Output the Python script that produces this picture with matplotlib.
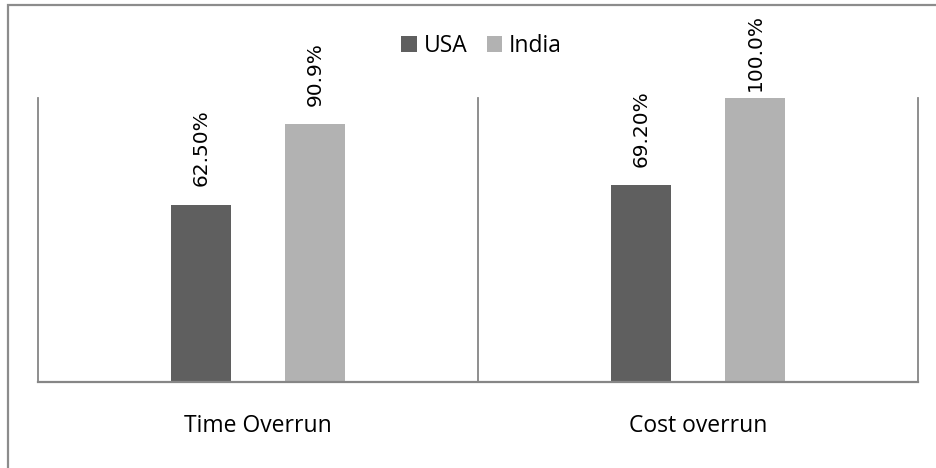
import matplotlib.pyplot as plt
import numpy as np
from matplotlib.patches import Rectangle

categories = ["Time Overrun", "Cost overrun"]
usa = [0.625, 0.692]
india = [0.909, 1.000]
usa_labels = ["62.50%", "69.20%"]
india_labels = ["90.9%", "100.0%"]

dark = "#5f5f5f"
light = "#b2b2b2"
line_gray = "#868686"
sans = ["Open Sans", "DejaVu Sans"]

fig = plt.figure(figsize=(9.36, 4.68), dpi=100)
ax = fig.add_axes([38 / 936, 1 - 382 / 468, 880 / 936, 284 / 468])

# outer chart frame (only top and left edges fall inside the canvas)
fig.patches.append(Rectangle((8 / 936, -0.1), 1.2, 1 - 5 / 468 + 0.1,
                             transform=fig.transFigure, fill=False,
                             edgecolor="#8c8c8c", linewidth=1.6))

x = np.arange(len(categories))
w = 0.136
off = 0.13
b1 = ax.bar(x - off, usa, w, color=dark, label="USA")
b2 = ax.bar(x + off, india, w, color=light, label="India")

ax.set_xlim(-0.5, 1.5)
ax.set_ylim(0, 1.0)

for s in ["top", "right"]:
    ax.spines[s].set_visible(False)
ax.spines["left"].set_color(line_gray)
ax.spines["left"].set_linewidth(1.3)
ax.spines["bottom"].set_color(line_gray)
ax.spines["bottom"].set_linewidth(1.6)
for xv in [0.5, 1.5]:
    ax.axvline(xv, color=line_gray, linewidth=1.3, clip_on=False)

ax.set_yticks([])
ax.set_xticks(x)
ax.set_xticklabels(categories, fontsize=16.5, family=sans)
ax.tick_params(axis="x", length=0, pad=23)

# value labels, rotated; keep them inside the frame
fig.canvas.draw()
renderer = fig.canvas.get_renderer()
for bars, labels in [(b1, usa_labels), (b2, india_labels)]:
    for bar, lab in zip(bars, labels):
        cx = bar.get_x() + bar.get_width() / 2
        h = bar.get_height()
        t = ax.annotate(lab, (cx, h), xytext=(0, 13), textcoords="offset points",
                        rotation=90, ha="center", va="bottom", fontsize=14.5,
                        color="#000000", family="DejaVu Sans")
        bb = t.get_window_extent(renderer)
        top_px = 468 - bb.y1
        if top_px < 14:
            t.set_position((0, 13 - (14 - top_px) * 72 / 100))

leg = fig.legend(loc="center", bbox_to_anchor=(481.5 / 936, 1 - 46 / 468), ncol=2,
                 frameon=False, handlelength=0.68, handleheight=0.68,
                 handletextpad=0.3, columnspacing=0.85,
                 prop={"family": sans, "size": 16.5})

fig.savefig("out.png", dpi=100)
